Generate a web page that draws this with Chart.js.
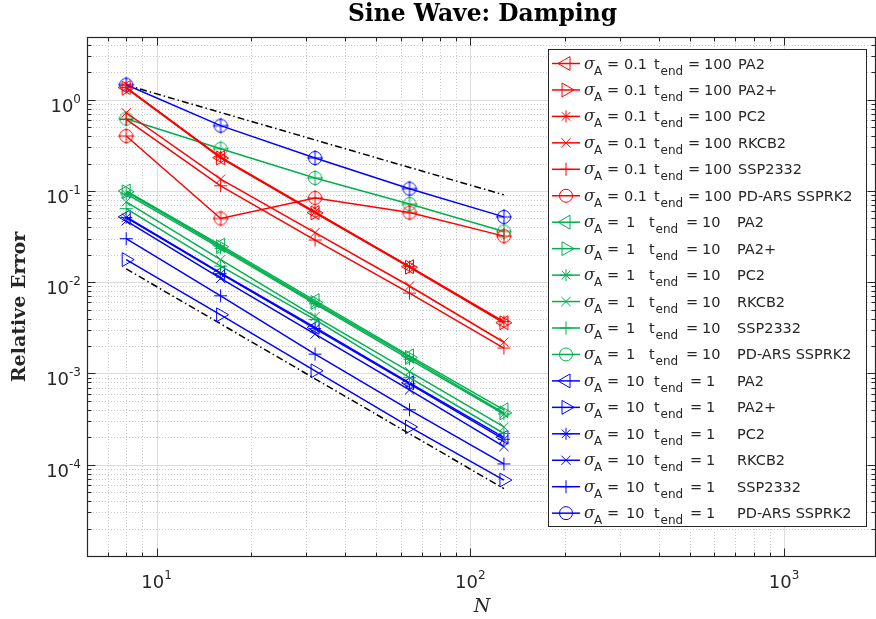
<!DOCTYPE html>
<html>
<head>
<meta charset="utf-8">
<script src="https://cdn.jsdelivr.net/npm/chart.js@4.4.0/dist/chart.umd.min.js"></script>
<style>
  html, body { margin: 0; padding: 0; background: #fff; }
  #wrap { width: 876px; height: 619px; }
</style>
</head>
<body>
<div id="wrap"><canvas id="errChart"></canvas></div>
<script>
// Number of cells N
const nValues = [8, 16, 32, 64, 128];

// sigma_A = 0.1, t_end = 100 (red)
const s01_PA2     = [1.36, 0.232, 0.058, 0.0148, 0.0036];
const s01_PA2p    = [1.34, 0.230, 0.0575, 0.0146, 0.0036];
const s01_PC2     = [1.36, 0.235, 0.059, 0.0148, 0.0037];
const s01_RKCB2   = [0.72, 0.135, 0.035, 0.0091, 0.0022];
const s01_SSP2332 = [0.61, 0.114, 0.029, 0.0076, 0.0019];
const s01_PDARS   = [0.40, 0.050, 0.084, 0.058, 0.032];

// sigma_A = 1, t_end = 10 (green)
const s1_PA2     = [0.100, 0.0255, 0.0063, 0.00156, 0.00040];
const s1_PA2p    = [0.098, 0.0245, 0.0060, 0.00150, 0.00037];
const s1_PC2     = [0.093, 0.0235, 0.0058, 0.00143, 0.00036];
const s1_RKCB2   = [0.076, 0.0177, 0.0042, 0.00105, 0.00026];
const s1_SSP2332 = [0.064, 0.0150, 0.0039, 0.00090, 0.00022];
const s1_PDARS   = [0.62, 0.29, 0.139, 0.072, 0.036];

// sigma_A = 10, t_end = 1 (blue)
const s10_PA2     = [0.052, 0.0127, 0.0032, 0.00079, 0.00020];
const s10_PA2p    = [0.0177, 0.0044, 0.00107, 0.00026, 0.000068];
const s10_PC2     = [0.051, 0.0124, 0.0031, 0.00077, 0.00019];
const s10_RKCB2   = [0.047, 0.0110, 0.0027, 0.00066, 0.000158];
const s10_SSP2332 = [0.030, 0.0071, 0.00163, 0.00040, 0.000102];
const s10_PDARS   = [1.46, 0.52, 0.23, 0.106, 0.052];

// reference slopes (dash-dot)
const refX = [8, 128];
const refFirstOrder = [1.45, 0.0906];
const refSecondOrder = [0.014, 0.0000547];

// legend text pieces
const methodNames = ['PA2', 'PA2+', 'PC2', 'RKCB2', 'SSP2332', 'PD-ARS SSPRK2'];
const sigmaLabels = ['0.1', '1', '10'];
const tEndLabels = ['100', '10', '1'];

// axis limits and tick labels
const xLimits = [6, 1950];
const yLimits = [1e-5, 4.87];
const xTickExps = ['1', '2', '3'];
const yTickExps = ['0', '-1', '-2', '-3', '-4'];

const groupColors = ['#ff0000', '#00b04f', '#0000ff'];
const markers = [
  { style: 'triangle', rot: 270, r: 8 },
  { style: 'triangle', rot: 90, r: 8 },
  { style: 'star', rot: 0, r: 6 },
  { style: 'crossRot', rot: 0, r: 6.5 },
  { style: 'cross', rot: 0, r: 6.5 },
  { style: 'circle', rot: 0, r: 6.5 }
];
const axisColor = '#262626';
// legend columns per group: value, t, "=", t value, method
const legendCols = [
  { v: 624, t: 654, eq: 688, tv: 704, m: 738 },
  { v: 626, t: 649, eq: 686, tv: 702, m: 737 },
  { v: 626, t: 654, eq: 690, tv: 706, m: 737 }
];

// circle with a plus inside, as it appears on the plot
function circlePlusImage(color, r) {
  const c = document.createElement('canvas');
  const s = Math.ceil(2 * r + 5);
  c.width = s; c.height = s;
  const g = c.getContext('2d');
  const m = s / 2;
  g.strokeStyle = color;
  g.lineWidth = 1;
  g.beginPath();
  g.arc(m, m, r, 0, 2 * Math.PI);
  g.moveTo(m - r - 1.5, m); g.lineTo(m + r + 1.5, m);
  g.moveTo(m, m - r - 1.5); g.lineTo(m, m + r + 1.5);
  g.stroke();
  return c;
}

// marker for the legend
function strokeMarker(ctx, mk, x, y) {
  const r = mk.r;
  ctx.beginPath();
  if (mk.style === 'circle') {
    ctx.arc(x, y, r, 0, 2 * Math.PI);
  } else if (mk.style === 'triangle') {
    const a = mk.rot * Math.PI / 180;
    for (let k = 0; k < 3; k++) {
      const t = a + k * 2 * Math.PI / 3;
      const px = x + Math.sin(t) * r, py = y - Math.cos(t) * r;
      if (k === 0) ctx.moveTo(px, py); else ctx.lineTo(px, py);
    }
    ctx.closePath();
  } else {
    if (mk.style === 'cross' || mk.style === 'star') {
      ctx.moveTo(x - r, y); ctx.lineTo(x + r, y);
      ctx.moveTo(x, y - r); ctx.lineTo(x, y + r);
    }
    if (mk.style === 'crossRot' || mk.style === 'star') {
      const d = r * Math.SQRT1_2;
      ctx.moveTo(x - d, y - d); ctx.lineTo(x + d, y + d);
      ctx.moveTo(x - d, y + d); ctx.lineTo(x + d, y - d);
    }
  }
  ctx.stroke();
}

const groupSeries = [
  [s01_PA2, s01_PA2p, s01_PC2, s01_RKCB2, s01_SSP2332, s01_PDARS],
  [s1_PA2, s1_PA2p, s1_PC2, s1_RKCB2, s1_SSP2332, s1_PDARS],
  [s10_PA2, s10_PA2p, s10_PC2, s10_RKCB2, s10_SSP2332, s10_PDARS]
];

const datasets = [];
groupSeries.forEach((series, gi) => {
  const color = groupColors[gi];
  series.forEach((vals, mi) => {
    const mk = markers[mi];
    datasets.push({
      data: nValues.map((n, k) => ({ x: n, y: vals[k] })),
      borderColor: color,
      borderWidth: 1.5,
      pointStyle: mk.style === 'circle' ? circlePlusImage(color, mk.r) : mk.style,
      pointRotation: mk.rot,
      pointRadius: mk.r,
      pointBorderColor: color,
      pointBackgroundColor: 'rgba(0,0,0,0)',
      pointBorderWidth: 1,
      fill: false,
      tension: 0
    });
  });
});
[refFirstOrder, refSecondOrder].forEach(vals => {
  datasets.push({
    data: refX.map((n, k) => ({ x: n, y: vals[k] })),
    borderColor: '#000000',
    borderWidth: 1.5,
    borderDash: [7, 3, 1.5, 3],
    pointRadius: 0,
    fill: false
  });
});

function decadeTicks(min, max) {
  const out = [];
  for (let e = Math.floor(Math.log10(min)); e <= Math.ceil(Math.log10(max)); e++) {
    for (let m = 1; m <= 9; m++) {
      const v = m * Math.pow(10, e);
      if (v >= min * 0.9999 && v <= max * 1.0001) out.push({ v: v, major: m === 1 });
    }
  }
  return out;
}

function drawPow(ctx, exp, x, y, align) {
  ctx.font = '18px "DejaVu Sans"';
  const w10 = ctx.measureText('10').width;
  ctx.font = '12px "DejaVu Sans"';
  const wE = ctx.measureText(exp).width;
  let x0 = x;
  if (align === 'right') x0 = x - w10 - wE;
  if (align === 'center') x0 = x - (w10 + wE) / 2;
  ctx.textAlign = 'left';
  ctx.textBaseline = 'alphabetic';
  ctx.font = '18px "DejaVu Sans"';
  ctx.fillText('10', x0, y);
  ctx.font = '12px "DejaVu Sans"';
  ctx.fillText(exp, x0 + w10, y - 9);
}

const matlabAxes = {
  id: 'matlabAxes',
  beforeDatasetsDraw(chart) {
    const { ctx, chartArea: a, scales: { x, y } } = chart;
    ctx.save();
    ctx.beginPath();
    ctx.rect(a.left, a.top, a.right - a.left, a.bottom - a.top);
    ctx.clip();
    ctx.lineWidth = 1;
    const xt = decadeTicks(xLimits[0], xLimits[1]);
    const yt = decadeTicks(yLimits[0], yLimits[1]);
    // minor grid
    ctx.strokeStyle = '#c9c9c9';
    ctx.setLineDash([1, 2]);
    ctx.beginPath();
    xt.filter(t => !t.major).forEach(t => {
      const px = Math.round(x.getPixelForValue(t.v)) + 0.5;
      ctx.moveTo(px, a.top); ctx.lineTo(px, a.bottom);
    });
    yt.filter(t => !t.major).forEach(t => {
      const py = Math.round(y.getPixelForValue(t.v)) + 0.5;
      ctx.moveTo(a.left, py); ctx.lineTo(a.right, py);
    });
    ctx.stroke();
    // major grid
    ctx.setLineDash([]);
    ctx.strokeStyle = '#dcdcdc';
    ctx.beginPath();
    xt.filter(t => t.major).forEach(t => {
      const px = Math.round(x.getPixelForValue(t.v)) + 0.5;
      ctx.moveTo(px, a.top); ctx.lineTo(px, a.bottom);
    });
    yt.filter(t => t.major).forEach(t => {
      const py = Math.round(y.getPixelForValue(t.v)) + 0.5;
      ctx.moveTo(a.left, py); ctx.lineTo(a.right, py);
    });
    ctx.stroke();
    ctx.restore();
  },
  afterDatasetsDraw(chart) {
    const { ctx, chartArea: a, scales: { x, y } } = chart;
    ctx.save();
    const L = Math.round(a.left) + 0.5, R = Math.round(a.right) + 0.5;
    const T = Math.round(a.top) + 0.5, B = Math.round(a.bottom) + 0.5;

    // axes box and inward ticks
    ctx.strokeStyle = axisColor;
    ctx.lineWidth = 1.2;
    ctx.strokeRect(L, T, R - L, B - T);
    ctx.lineWidth = 1;
    ctx.beginPath();
    decadeTicks(xLimits[0], xLimits[1]).forEach(t => {
      const px = Math.round(x.getPixelForValue(t.v)) + 0.5;
      const len = t.major ? 8 : 4;
      ctx.moveTo(px, B); ctx.lineTo(px, B - len);
      ctx.moveTo(px, T); ctx.lineTo(px, T + len);
    });
    decadeTicks(yLimits[0], yLimits[1]).forEach(t => {
      const py = Math.round(y.getPixelForValue(t.v)) + 0.5;
      const len = t.major ? 8 : 4;
      ctx.moveTo(L, py); ctx.lineTo(L + len, py);
      ctx.moveTo(R, py); ctx.lineTo(R - len, py);
    });
    ctx.stroke();

    // tick labels
    ctx.fillStyle = axisColor;
    xTickExps.forEach(e => {
      drawPow(ctx, e, x.getPixelForValue(Math.pow(10, +e)), a.bottom + 32, 'center');
    });
    yTickExps.forEach(e => {
      drawPow(ctx, e, a.left - 6, y.getPixelForValue(Math.pow(10, +e)) + 12, 'right');
    });

    // title
    ctx.fillStyle = '#000';
    ctx.textAlign = 'center';
    ctx.textBaseline = 'alphabetic';
    const title = 'Sine Wave: Damping';
    ctx.font = 'bold 20px "DejaVu Serif"';
    const tSize = 20 * 269 / ctx.measureText(title).width;
    ctx.font = 'bold ' + tSize.toFixed(1) + 'px "DejaVu Serif"';
    ctx.fillText(title, 482.5, 20.5);

    // axis titles
    ctx.fillStyle = axisColor;
    ctx.font = 'italic 19px "DejaVu Serif"';
    ctx.fillText('N', 482, 612);
    ctx.save();
    ctx.translate(25, 307);
    ctx.rotate(-Math.PI / 2);
    ctx.font = 'bold 19px "DejaVu Serif"';
    ctx.fillText('Relative Error', 0, 0);
    ctx.restore();

    // legend
    const lx = 548.5, ly = 49.5, lw = 318, lh = 477;
    ctx.fillStyle = '#ffffff';
    ctx.fillRect(lx, ly, lw, lh);
    ctx.strokeStyle = axisColor;
    ctx.lineWidth = 1;
    ctx.strokeRect(lx, ly, lw, lh);
    let row = 0;
    groupColors.forEach((color, gi) => {
      const col = legendCols[gi];
      methodNames.forEach((name, mi) => {
        const cy = 63.5 + row * 26.45;
        ctx.strokeStyle = color;
        ctx.lineWidth = 1.5;
        ctx.beginPath();
        ctx.moveTo(552, cy); ctx.lineTo(580, cy);
        ctx.stroke();
        ctx.lineWidth = 1;
        strokeMarker(ctx, markers[mi], 566, cy);

        const base = cy + 5;
        ctx.fillStyle = axisColor;
        ctx.textAlign = 'left';
        ctx.font = 'italic 16px "DejaVu Serif"';
        ctx.fillText('σ', 584, base);
        ctx.font = '12px "DejaVu Sans"';
        ctx.fillText('A', 594, base + 6);
        ctx.font = '14.5px "DejaVu Sans"';
        ctx.fillText('=', 607, base);
        ctx.fillText(sigmaLabels[gi], col.v, base);
        ctx.fillText('t', col.t, base);
        ctx.fillText('=', col.eq, base);
        ctx.fillText(tEndLabels[gi], col.tv, base);
        ctx.fillText(name, col.m, base);
        ctx.font = '12px "DejaVu Sans"';
        ctx.fillText('end', col.t + 6.5, base + 6);
        row++;
      });
    });
    ctx.restore();
  }
};

new Chart(document.getElementById('errChart'), {
  type: 'line',
  data: { datasets: datasets },
  options: {
    responsive: true,
    maintainAspectRatio: false,
    animation: false,
    events: [],
    layout: { autoPadding: false, padding: { left: 87, top: 37, right: 1, bottom: 63 } },
    plugins: {
      legend: { display: false },
      tooltip: { enabled: false },
      title: { display: false }
    },
    scales: {
      x: {
        type: 'logarithmic',
        min: xLimits[0],
        max: xLimits[1],
        ticks: { display: false },
        grid: { display: false, drawTicks: false },
        border: { display: false }
      },
      y: {
        type: 'logarithmic',
        min: yLimits[0],
        max: yLimits[1],
        ticks: { display: false },
        grid: { display: false, drawTicks: false },
        border: { display: false }
      }
    }
  },
  plugins: [matlabAxes]
});
</script>
</body>
</html>
